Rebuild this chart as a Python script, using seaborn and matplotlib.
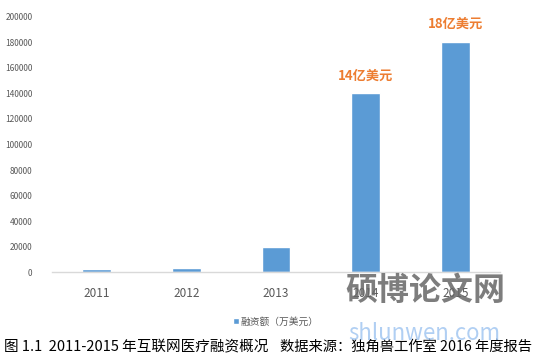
import pandas as pd
import seaborn as sns
import matplotlib.pyplot as plt

# 数据
years = ['2011', '2012', '2013', '2014', '2015']
financing = [2700, 3300, 19600, 140000, 180000]   # 万美元
bar_notes = {'2014': '14亿美元', '2015': '18亿美元'}
series_name = '融资额（万美元）'
caption = '图 1.1  2011-2015 年互联网医疗融资概况'
source = '数据来源：独角兽工作室 2016 年度报告'

df = pd.DataFrame({'year': years, 'value': financing})

sns.set_style('white')
plt.rcParams['font.family'] = ['Noto Sans CJK SC', 'DejaVu Sans']

fig = plt.figure(figsize=(5.57, 3.59), dpi=100)
ax = fig.add_axes([0.093, 0.242, 0.805, 0.711])

sns.barplot(data=df, x='year', y='value', color='#5B9BD5', width=0.32,
            saturation=1, ax=ax, label=series_name)

ax.set_ylim(0, 200000)
ax.set_yticks(range(0, 200001, 20000))
ax.set_xlim(-0.5, 4.5)
ax.set_xlabel('')
ax.set_ylabel('')
ax.tick_params(axis='y', labelsize=6, colors='#595959', length=0, pad=14)
ax.tick_params(axis='x', labelsize=8.5, colors='#595959', length=0, pad=11)
for s in ['top', 'right', 'left']:
    ax.spines[s].set_visible(False)
ax.spines['bottom'].set_color('#D9D9D9')
ax.spines['bottom'].set_linewidth(1)

# 柱顶标注
for i, y in enumerate(years):
    if y in bar_notes:
        ax.annotate(bar_notes[y], (i, financing[i]), xytext=(0, 8),
                    textcoords='offset points', ha='center', va='bottom',
                    color='#ED7D31', fontsize=9.5, fontweight='bold')

leg = ax.legend(loc='upper center', bbox_to_anchor=(0.5, -0.14), frameon=False,
                fontsize=7, handlelength=0.6, handleheight=0.6, handletextpad=0.2)
for t in leg.get_texts():
    t.set_color('#595959')

# 图题
fig.text(0.008, 0.033, caption, fontsize=10.5, color='black', ha='left', va='center')
fig.text(0.503, 0.033, source, fontsize=10.3, color='black', ha='left', va='center')

# 水印
fig.text(0.62, 0.19, '硕博论文网', fontsize=23, color='#666666', alpha=0.85,
         ha='left', va='center', fontweight='bold')
fig.text(0.625, 0.07, 'shlunwen.com', fontsize=16, color='#9DC3F0', alpha=0.8,
         ha='left', va='center')

fig.savefig('out.png', dpi=100)
